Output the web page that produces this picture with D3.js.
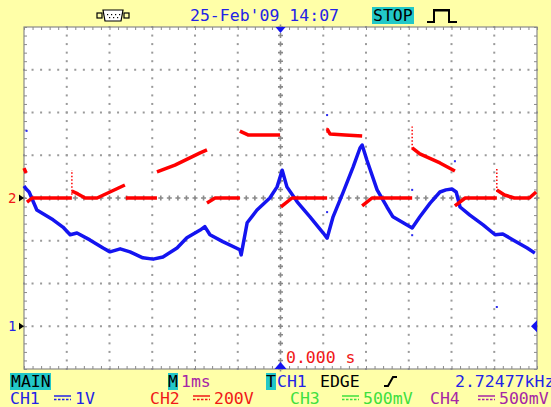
<!DOCTYPE html>
<html><head><meta charset="utf-8">
<script src="https://cdn.jsdelivr.net/npm/d3@7"></script>
<style>
html,body{margin:0;padding:0;background:#FFFFA8;}
svg{display:block;}
text{font-family:"DejaVu Sans Mono",monospace;}
</style></head>
<body><svg id="c" width="551" height="407"></svg>
<script>
// ---- data ----
// CH1 (blue), time in ms, volts (1 V/div, ground 3 div below centre)
const ch1Time = [-6.00,-5.95,-5.88,-5.70,-5.32,-5.09,-4.92,-4.76,-4.46,-4.15,-3.99,-3.75,-3.52,-3.22,-2.98,-2.75,-2.42,-2.19,-1.88,-1.77,-1.65,-1.35,-0.95,-0.92,-0.78,-0.55,-0.25,-0.08,0.04,0.15,0.39,0.69,1.00,1.09,1.23,1.46,1.70,1.86,1.91,2.02,2.26,2.49,2.63,2.87,3.08,3.26,3.50,3.73,3.87,4.01,4.11,4.20,4.43,4.74,5.02,5.20,5.44,5.77,5.95];
const ch1Volts = [3.28,3.21,3.14,2.72,2.49,2.32,2.14,2.18,2.02,1.83,1.74,1.81,1.74,1.60,1.57,1.62,1.83,2.07,2.25,2.33,2.14,1.98,1.79,1.67,2.42,2.72,3.00,3.26,3.65,3.26,2.91,2.56,2.18,2.06,2.56,3.12,3.73,4.17,4.24,3.89,3.19,2.79,2.56,2.42,2.30,2.56,2.88,3.14,3.19,3.21,3.14,2.79,2.60,2.37,2.14,2.16,2.02,1.83,1.71];
// CH2 (red), time in ms, volts (200 V/div); null = gap between segments
const ch2Time = [-6.00,-5.95,null,-5.93,-5.81,-4.88,null,-4.88,-4.74,-4.57,-4.29,-3.99,-3.64,null,-3.62,-2.89,null,-2.89,-2.47,-1.88,-1.72,null,-1.72,-1.53,-0.95,null,-0.95,-0.76,-0.01,null,0.01,0.27,1.09,null,1.09,1.16,1.51,1.91,null,1.91,2.14,3.08,null,3.08,3.26,3.73,4.08,null,4.08,4.32,5.06,null,5.06,5.24,5.47,5.82,5.98];
const ch2Volts = [140,117,null,-19,0,0,null,33,19,0,0,28,61,null,0,0,null,122,154,211,225,null,-23,0,0,null,313,295,295,null,-42,0,0,null,323,299,295,290,null,-37,0,0,null,234,206,164,126,null,-37,0,0,null,37,14,0,0,28];
// spikes at switching edges (CH2)
const spikeTime = [-4.88,1.09,3.08,5.06];
const spikeBase = [15,305,230,30];
const spikeTop = [131,335,334,140];
// stray samples
const strayCh1Time = [-5.94,1.09,1.09,3.08,3.08,4.08,5.06];
const strayCh1Volts = [4.57,4.94,2.67,3.19,2.13,3.86,0.45];
// screen text
const headerDate = "25-Feb'09 14:07";
const timebase = "1ms";
const trigFreq = "2.72477kHz";
const channels = ["CH1","CH2","CH3","CH4"];
const chScales = ["1V","200V","500mV","500mV"];
const chColors = ["#2323E6","#F01818","#3EE03E","#A626A6"];

// ---- layout ----
const svg = d3.select("#c");
const L=24, R=537, T=27, B=369;
const x = d3.scaleLinear().domain([-6,6]).range([L,R]);
const yDiv = d3.scaleLinear().domain([-4,4]).range([B,T]);
const y1 = d3.scaleLinear().domain([-1,7]).range([B,T]);
const y2 = d3.scaleLinear().domain([-800,800]).range([B,T]);

svg.append("rect").attr("width",551).attr("height",407).attr("fill","#FFFFA8");
svg.append("rect").attr("x",L).attr("y",T).attr("width",R-L).attr("height",B-T).attr("fill","#fff");

const g = svg.append("g");
const grey="#9a9a9a";
// dotted grid
const divX = d3.range(-5,6).filter(d=>d!==0);
const divY = d3.range(-3,4).filter(d=>d!==0);
const minorX = d3.range(-6,6.001,0.2);
const minorY = d3.range(-4,4.001,0.2);
divX.forEach(d=>{
  minorY.forEach(m=>g.append("rect").attr("x",x(d)-1).attr("y",yDiv(m)-1).attr("width",2).attr("height",2).attr("fill",grey));
});
divY.forEach(d=>{
  minorX.forEach(m=>g.append("rect").attr("x",x(m)-1).attr("y",yDiv(d)-1).attr("width",2).attr("height",2).attr("fill",grey));
});
// centre crosses
minorX.forEach(m=>{
  const cx=x(m), cy=yDiv(0);
  g.append("path").attr("d",`M${cx-2.5},${cy}H${cx+2.5}M${cx},${cy-2.5}V${cy+2.5}`).attr("stroke","#8a8a8a").attr("stroke-width",1.6);
});
minorY.forEach(m=>{
  const cx=x(0), cy=yDiv(m);
  g.append("path").attr("d",`M${cx-2.5},${cy}H${cx+2.5}M${cx},${cy-2.5}V${cy+2.5}`).attr("stroke","#8a8a8a").attr("stroke-width",1.6);
});
// border with ticks
g.append("rect").attr("x",L).attr("y",T).attr("width",R-L).attr("height",B-T).attr("fill","none").attr("stroke","#8a8a8a").attr("stroke-width",1.2);
const axT = d3.axisTop(x).tickValues(minorX).tickSize(-3).tickFormat("");
const axB = d3.axisBottom(x).tickValues(minorX).tickSize(-3).tickFormat("");
const axL = d3.axisLeft(yDiv).tickValues(minorY).tickSize(-3).tickFormat("");
const axR = d3.axisRight(yDiv).tickValues(minorY).tickSize(-3).tickFormat("");
[[axT,`translate(0,${T})`],[axB,`translate(0,${B})`],[axL,`translate(${L},0)`],[axR,`translate(${R},0)`]].forEach(([a,tr])=>{
  const ag=g.append("g").attr("transform",tr).call(a);
  ag.select(".domain").remove();
  ag.selectAll("line").attr("stroke","#8a8a8a");
});

// traces
const line1 = d3.line().x((d,i)=>x(ch1Time[i])).y((d,i)=>y1(ch1Volts[i]));
svg.append("path").attr("d",line1(ch1Time)).attr("fill","none").attr("stroke","#1414F0").attr("stroke-width",3.5).attr("stroke-linejoin","round");
const line2 = d3.line().defined((d,i)=>ch2Time[i]!==null).x((d,i)=>x(ch2Time[i])).y((d,i)=>y2(ch2Volts[i]));
svg.append("path").attr("d",line2(ch2Time)).attr("fill","none").attr("stroke","#FF0000").attr("stroke-width",3.5).attr("stroke-linejoin","round");
spikeTime.forEach((t,i)=>{
  svg.append("line").attr("x1",x(t)).attr("x2",x(t)).attr("y1",y2(spikeBase[i])).attr("y2",y2(spikeTop[i]))
    .attr("stroke","#FF0000").attr("stroke-width",1.5).attr("stroke-dasharray","1.5,2");
});
strayCh1Time.forEach((t,i)=>{
  svg.append("rect").attr("x",x(t)-1).attr("y",y1(strayCh1Volts[i])-1).attr("width",2).attr("height",2).attr("fill","#2a2af0");
});

// markers
const mk = svg.append("g");
mk.append("path").attr("d",`M${x(0)-5},${T}L${x(0)+5},${T}L${x(0)},${T+6}Z`).attr("fill","#1414F0");
mk.append("path").attr("d",`M${x(0)-6},${B}L${x(0)+6},${B}L${x(0)},${B-7}Z`).attr("fill","#1414F0");
mk.append("path").attr("d",`M${R},${y1(0)-6}L${R},${y1(0)+6}L${R-6},${y1(0)}Z`).attr("fill","#1414F0");
mk.append("path").attr("d",`M${L-5},${y2(0)-3.5}L${L-5},${y2(0)+3.5}L${L},${y2(0)}Z`).attr("fill","#000");
mk.append("path").attr("d",`M${L-5},${y1(0)-3.5}L${L-5},${y1(0)+3.5}L${L},${y1(0)}Z`).attr("fill","#000");
mk.append("text").attr("x",8).attr("y",y2(0)+5).attr("font-size",14).attr("fill","#F01818").text("2");
mk.append("text").attr("x",8).attr("y",y1(0)+5).attr("font-size",14).attr("fill","#2323E6").text("1");
svg.append("text").attr("x",286).attr("y",363).attr("font-size",16.5).attr("fill","#F01818").text("0.000 s");

// header
const fs=16.5;
svg.append("text").attr("x",190).attr("y",21).attr("font-size",fs).attr("fill","#2323E6").text(headerDate);
svg.append("rect").attr("x",372).attr("y",7).attr("width",42).attr("height",17).attr("fill","#22C8C8");
svg.append("text").attr("x",373).attr("y",21).attr("font-size",fs).attr("fill","#000").text("STOP");
// trigger-run icon
svg.append("path").attr("d","M427,22H434V10H449V22H457").attr("fill","none").attr("stroke","#000").attr("stroke-width",2);
d3.range(436,449,2).forEach(v=>svg.append("line").attr("x1",v).attr("x2",v).attr("y1",9).attr("y2",12).attr("stroke","#000").attr("stroke-width",1));
// interface icon
svg.append("rect").attr("x",97).attr("y",13).attr("width",5).attr("height",5).attr("fill","none").attr("stroke","#000").attr("stroke-width",1.2);
svg.append("rect").attr("x",124).attr("y",13).attr("width",5).attr("height",5).attr("fill","none").attr("stroke","#000").attr("stroke-width",1.2);
svg.append("path").attr("d","M103,10H123L121,21H105Z").attr("fill","#fff").attr("stroke","#000").attr("stroke-width",1.2);
[[107,14],[111,14],[115,14],[119,14],[109,17],[113,17],[117,17]].forEach(p=>svg.append("rect").attr("x",p[0]).attr("y",p[1]).attr("width",1.2).attr("height",1.2).attr("fill","#000"));

// footer row 1
svg.append("rect").attr("x",10).attr("y",373).attr("width",41).attr("height",17).attr("fill","#22C8C8");
svg.append("text").attr("x",11).attr("y",387).attr("font-size",fs).attr("fill","#000").text("MAIN");
svg.append("rect").attr("x",168).attr("y",373).attr("width",10).attr("height",17).attr("fill","#22C8C8");
svg.append("text").attr("x",168).attr("y",387).attr("font-size",fs).attr("fill","#000").text("M");
svg.append("text").attr("x",181).attr("y",387).attr("font-size",fs).attr("fill","#A626A6").text(timebase);
svg.append("rect").attr("x",266).attr("y",373).attr("width",10).attr("height",17).attr("fill","#22C8C8");
svg.append("text").attr("x",266).attr("y",387).attr("font-size",fs).attr("fill","#000").text("T");
svg.append("text").attr("x",277).attr("y",387).attr("font-size",fs).attr("fill","#2323E6").text("CH1");
svg.append("text").attr("x",320).attr("y",387).attr("font-size",fs).attr("fill","#000").text("EDGE");
svg.append("path").attr("d","M384,386H388L393,377H397").attr("fill","none").attr("stroke","#000").attr("stroke-width",2);
svg.append("text").attr("x",455).attr("y",387).attr("font-size",fs).attr("fill","#2323E6").text(trigFreq);

// footer row 2
const chX=[10,150,290,430], valX=[75,214,363,499];
channels.forEach((c,i)=>{
  svg.append("text").attr("x",chX[i]).attr("y",404).attr("font-size",fs).attr("fill",chColors[i]).text(c);
  const sx=valX[i]-21;
  svg.append("line").attr("x1",sx).attr("x2",sx+17).attr("y1",396).attr("y2",396).attr("stroke",chColors[i]).attr("stroke-width",1.5);
  svg.append("line").attr("x1",sx).attr("x2",sx+17).attr("y1",399.5).attr("y2",399.5).attr("stroke",chColors[i]).attr("stroke-width",1.5).attr("stroke-dasharray","2.5,1.5");
  svg.append("text").attr("x",valX[i]).attr("y",404).attr("font-size",fs).attr("fill",chColors[i]).text(chScales[i]);
});
</script></body></html>
